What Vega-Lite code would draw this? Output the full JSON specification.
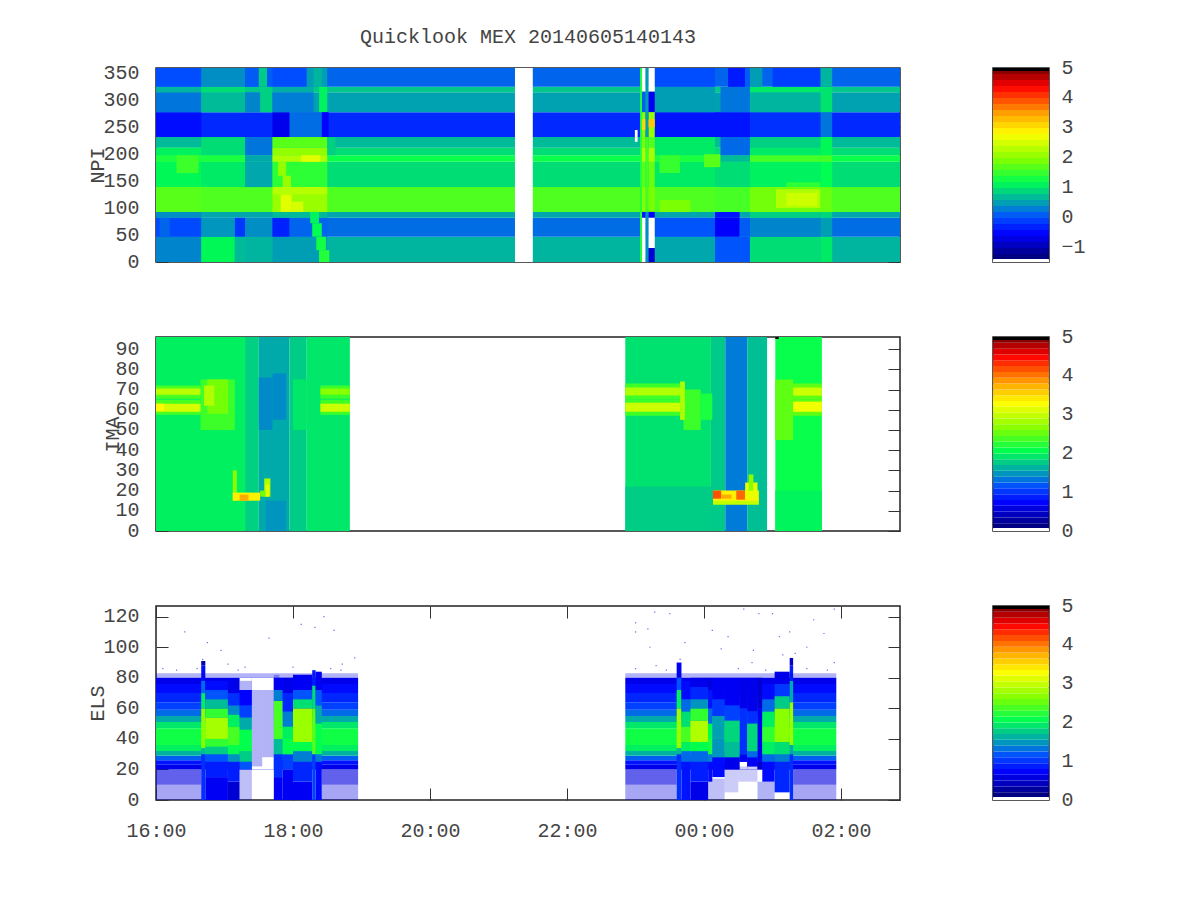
{"$schema":"https://vega.github.io/schema/vega-lite/v6.json","background":"white","padding":{"left":86,"top":26,"right":5,"bottom":5},
"config":{"view":{"stroke":"#222","strokeWidth":1.5},"axis":{"grid":false,"labelFont":"Liberation Mono","titleFont":"Liberation Mono","labelFontSize":20,"titleFontSize":20,"titleFontWeight":"normal","labelColor":"#444","titleColor":"#444","tickColor":"#333","domain":false,"zindex":1,"labelFlush":false,"labelOverlap":false},"title":{"font":"Liberation Mono","fontSize":20,"fontWeight":"normal","color":"#444"}},
"datasets":{
"npi":[
{"t":16,"t2":26.86,"y":0,"y2":47,"v":0.55},{"t":16,"t2":26.86,"y":47,"y2":82,"v":0.1},{"t":16,"t2":26.86,"y":82,"y2":93,"v":0.45},{"t":16,"t2":26.86,"y":93,"y2":139,"v":1.55},{"t":16,"t2":26.86,"y":139,"y2":186,"v":0.85},{"t":16,"t2":26.86,"y":186,"y2":198,"v":1.15},{"t":16,"t2":26.86,"y":198,"y2":212,"v":0.85},{"t":16,"t2":26.86,"y":212,"y2":232,"v":0.6},{"t":16,"t2":26.86,"y":232,"y2":278,"v":-0.35},{"t":16,"t2":26.86,"y":278,"y2":315,"v":0.42},{"t":16,"t2":26.86,"y":315,"y2":325,"v":0.7},{"t":16,"t2":26.86,"y":325,"y2":360,"v":0.05},
{"t":16,"t2":16.66,"y":0,"y2":47,"v":0.25},{"t":16,"t2":16.66,"y":47,"y2":82,"v":-0.12},{"t":16,"t2":16.66,"y":82,"y2":93,"v":0.3},{"t":16,"t2":16.66,"y":93,"y2":139,"v":1.6},{"t":16,"t2":16.66,"y":139,"y2":186,"v":1.05},{"t":16,"t2":16.66,"y":186,"y2":198,"v":1.25},{"t":16,"t2":16.66,"y":198,"y2":212,"v":1.0},{"t":16,"t2":16.66,"y":232,"y2":278,"v":-0.55},{"t":16,"t2":16.66,"y":278,"y2":315,"v":0.15},{"t":16,"t2":16.66,"y":315,"y2":325,"v":0.55},{"t":16,"t2":16.66,"y":325,"y2":360,"v":-0.1},
{"t":16.3,"t2":16.62,"y":165,"y2":198,"v":1.45},{"t":16.05,"t2":16.2,"y":47,"y2":82,"v":0.05},
{"t":16.66,"t2":17.15,"y":0,"y2":47,"v":1.05},{"t":17.15,"t2":17.3,"y":0,"y2":47,"v":0.6},{"t":17.15,"t2":17.3,"y":47,"y2":82,"v":-0.25},{"t":16.66,"t2":17.15,"y":47,"y2":82,"v":0.35},{"t":16.66,"t2":17.3,"y":139,"y2":186,"v":0.95},{"t":16.66,"t2":17.3,"y":186,"y2":198,"v":1.25},{"t":16.66,"t2":17.3,"y":198,"y2":232,"v":0.85},{"t":16.66,"t2":17.3,"y":278,"y2":315,"v":0.6},{"t":16.66,"t2":17.3,"y":315,"y2":325,"v":0.85},{"t":16.66,"t2":17.3,"y":325,"y2":360,"v":0.3},
{"t":17.3,"t2":17.7,"y":0,"y2":47,"v":0.55},{"t":17.3,"t2":17.7,"y":47,"y2":82,"v":0.3},{"t":17.3,"t2":17.7,"y":139,"y2":186,"v":0.45},{"t":17.3,"t2":17.7,"y":186,"y2":198,"v":0.45},{"t":17.3,"t2":17.7,"y":198,"y2":232,"v":0.15},{"t":17.3,"t2":17.7,"y":278,"y2":315,"v":0.25},{"t":17.3,"t2":17.7,"y":325,"y2":360,"v":0.0},{"t":17.52,"t2":17.7,"y":278,"y2":325,"v":0.75},{"t":17.5,"t2":17.62,"y":325,"y2":360,"v":0.7},
{"t":17.7,"t2":18.5,"y":0,"y2":47,"v":0.4},{"t":17.7,"t2":17.95,"y":47,"y2":82,"v":-0.4},{"t":17.95,"t2":18.5,"y":47,"y2":82,"v":0.05},{"t":17.7,"t2":18.5,"y":82,"y2":93,"v":0.6},{"t":17.7,"t2":18.5,"y":93,"y2":125,"v":2.0},{"t":17.7,"t2":18.5,"y":125,"y2":139,"v":2.2},{"t":17.7,"t2":18.5,"y":139,"y2":186,"v":1.35},{"t":17.7,"t2":18.5,"y":186,"y2":198,"v":2.15},{"t":17.7,"t2":18.5,"y":198,"y2":212,"v":1.95},{"t":17.7,"t2":18.5,"y":212,"y2":232,"v":1.6},{"t":17.7,"t2":17.95,"y":232,"y2":278,"v":-0.75},{"t":17.95,"t2":18.45,"y":232,"y2":278,"v":0.1},{"t":17.7,"t2":18.3,"y":278,"y2":315,"v":0.2},{"t":17.7,"t2":18.3,"y":315,"y2":325,"v":0.5},{"t":17.7,"t2":18.2,"y":325,"y2":360,"v":-0.1},{"t":18.2,"t2":18.5,"y":325,"y2":360,"v":0.4},
{"t":17.82,"t2":17.98,"y":93,"y2":125,"v":2.5},{"t":17.98,"t2":18.15,"y":93,"y2":112,"v":2.4},{"t":18.12,"t2":18.4,"y":186,"y2":198,"v":2.5},{"t":17.78,"t2":17.9,"y":160,"y2":186,"v":1.95},{"t":17.85,"t2":17.97,"y":139,"y2":160,"v":2.0},{"t":18.25,"t2":18.38,"y":72,"y2":93,"v":1.0},{"t":18.28,"t2":18.42,"y":47,"y2":72,"v":1.1},{"t":18.34,"t2":18.48,"y":22,"y2":47,"v":1.2},{"t":18.38,"t2":18.53,"y":0,"y2":22,"v":1.3},{"t":18.3,"t2":18.42,"y":325,"y2":360,"v":0.55},{"t":18.38,"t2":18.5,"y":278,"y2":325,"v":1.0},{"t":18.42,"t2":18.52,"y":232,"y2":278,"v":-0.6},
{"t":18.5,"t2":18.62,"y":198,"y2":232,"v":0.75},
{"t":21.24,"t2":21.5,"y":0,"y2":360,"v":-1.47},
{"t":23.28,"t2":24.16,"y":0,"y2":47,"v":0.45},{"t":23.28,"t2":24.16,"y":47,"y2":82,"v":-0.05},{"t":23.28,"t2":24.16,"y":139,"y2":186,"v":0.95},{"t":23.28,"t2":24.16,"y":186,"y2":198,"v":1.25},{"t":23.28,"t2":24.16,"y":198,"y2":232,"v":0.95},{"t":23.28,"t2":24.16,"y":232,"y2":278,"v":-0.5},{"t":23.28,"t2":24.16,"y":278,"y2":325,"v":0.4},{"t":23.28,"t2":24.16,"y":325,"y2":360,"v":-0.1},
{"t":23.35,"t2":23.65,"y":165,"y2":198,"v":1.4},{"t":24.0,"t2":24.24,"y":176,"y2":200,"v":1.6},{"t":23.35,"t2":23.8,"y":93,"y2":115,"v":1.8},
{"t":24.16,"t2":24.67,"y":0,"y2":47,"v":-0.05},{"t":24.16,"t2":24.52,"y":47,"y2":82,"v":-0.65},{"t":24.52,"t2":24.67,"y":47,"y2":82,"v":0.0},{"t":24.16,"t2":24.52,"y":82,"y2":93,"v":-0.5},{"t":24.16,"t2":24.67,"y":93,"y2":139,"v":1.5},{"t":24.24,"t2":24.67,"y":139,"y2":186,"v":0.85},{"t":24.24,"t2":24.67,"y":186,"y2":198,"v":0.6},{"t":24.24,"t2":24.67,"y":198,"y2":232,"v":0.08},{"t":24.16,"t2":24.67,"y":232,"y2":278,"v":-0.5},{"t":24.24,"t2":24.67,"y":278,"y2":325,"v":0.15},{"t":24.35,"t2":24.6,"y":325,"y2":360,"v":-0.45},{"t":24.6,"t2":24.67,"y":325,"y2":360,"v":0.0},
{"t":24.67,"t2":25.7,"y":0,"y2":47,"v":0.85},{"t":24.67,"t2":25.7,"y":47,"y2":82,"v":0.25},{"t":24.67,"t2":25.7,"y":82,"y2":93,"v":0.75},{"t":24.67,"t2":25.7,"y":93,"y2":139,"v":1.75},{"t":24.67,"t2":25.7,"y":139,"y2":186,"v":1.0},{"t":24.67,"t2":25.7,"y":186,"y2":198,"v":1.5},{"t":24.67,"t2":25.7,"y":198,"y2":212,"v":0.95},{"t":24.67,"t2":25.7,"y":212,"y2":232,"v":0.75},{"t":24.67,"t2":25.7,"y":232,"y2":278,"v":-0.3},{"t":24.67,"t2":25.7,"y":278,"y2":315,"v":0.55},{"t":24.67,"t2":25.7,"y":315,"y2":325,"v":0.95},{"t":24.67,"t2":24.85,"y":325,"y2":360,"v":0.4},{"t":25.0,"t2":25.7,"y":325,"y2":360,"v":-0.2},
{"t":25.05,"t2":25.7,"y":100,"y2":135,"v":2.15},{"t":25.2,"t2":25.65,"y":104,"y2":128,"v":2.35},{"t":25.2,"t2":25.7,"y":139,"y2":148,"v":1.35},
{"t":25.7,"t2":25.87,"y":0,"y2":47,"v":0.95},{"t":25.7,"t2":25.87,"y":47,"y2":82,"v":0.4},{"t":25.7,"t2":25.87,"y":82,"y2":93,"v":0.8},{"t":25.7,"t2":25.87,"y":93,"y2":139,"v":1.7},{"t":25.7,"t2":25.87,"y":139,"y2":186,"v":1.1},{"t":25.7,"t2":25.87,"y":186,"y2":198,"v":1.5},{"t":25.7,"t2":25.87,"y":198,"y2":232,"v":1.05},{"t":25.7,"t2":25.87,"y":232,"y2":278,"v":0.15},{"t":25.7,"t2":25.87,"y":278,"y2":325,"v":0.9},{"t":25.7,"t2":25.87,"y":325,"y2":360,"v":0.55},
{"t":22.99,"t2":23.03,"y":223,"y2":245,"v":-1.47},
{"t":23.066,"t2":23.095,"y":0,"y2":360,"v":1.3},
{"t":23.095,"t2":23.147,"y":316,"y2":360,"v":-1.47},{"t":23.095,"t2":23.147,"y":278,"y2":316,"v":0.0},{"t":23.095,"t2":23.147,"y":232,"y2":278,"v":1.9},{"t":23.095,"t2":23.147,"y":245,"y2":265,"v":3.0},{"t":23.095,"t2":23.147,"y":212,"y2":232,"v":1.8},{"t":23.095,"t2":23.147,"y":186,"y2":212,"v":2.2},{"t":23.095,"t2":23.147,"y":139,"y2":186,"v":1.6},{"t":23.095,"t2":23.147,"y":93,"y2":139,"v":1.9},{"t":23.095,"t2":23.147,"y":82,"y2":93,"v":-0.5},{"t":23.095,"t2":23.147,"y":0,"y2":82,"v":-1.47},
{"t":23.147,"t2":23.19,"y":232,"y2":360,"v":0.4},{"t":23.147,"t2":23.19,"y":93,"y2":232,"v":1.45},{"t":23.147,"t2":23.19,"y":0,"y2":93,"v":0.3},
{"t":23.19,"t2":23.28,"y":316,"y2":360,"v":-1.47},{"t":23.19,"t2":23.28,"y":278,"y2":316,"v":-0.7},{"t":23.19,"t2":23.28,"y":232,"y2":278,"v":2.0},{"t":23.19,"t2":23.28,"y":250,"y2":265,"v":3.1},{"t":23.19,"t2":23.28,"y":212,"y2":232,"v":1.6},{"t":23.19,"t2":23.28,"y":186,"y2":212,"v":2.1},{"t":23.19,"t2":23.28,"y":139,"y2":186,"v":1.7},{"t":23.19,"t2":23.28,"y":93,"y2":139,"v":1.8},{"t":23.19,"t2":23.28,"y":82,"y2":93,"v":-0.6},{"t":23.19,"t2":23.28,"y":26,"y2":82,"v":-1.47},{"t":23.19,"t2":23.28,"y":0,"y2":26,"v":-0.9}
],
"ima":[
{"t":16,"t2":17.3,"y":0,"y2":96,"v":1.9},{"t":17.3,"t2":17.5,"y":0,"y2":96,"v":1.72},{"t":17.5,"t2":17.95,"y":0,"y2":96,"v":1.5},{"t":17.95,"t2":18.2,"y":0,"y2":96,"v":1.7},{"t":18.2,"t2":18.83,"y":0,"y2":96,"v":1.85},
{"t":17.5,"t2":17.7,"y":50,"y2":76,"v":1.35},{"t":17.6,"t2":17.9,"y":0,"y2":15,"v":1.4},{"t":17.7,"t2":17.9,"y":55,"y2":78,"v":1.35},{"t":18.0,"t2":18.2,"y":50,"y2":75,"v":1.85},
{"t":16,"t2":16.65,"y":65.5,"y2":72,"v":2.3},{"t":16,"t2":16.65,"y":57.5,"y2":65,"v":2.3},{"t":18.4,"t2":18.83,"y":65.5,"y2":72,"v":2.25},{"t":18.4,"t2":18.83,"y":57.5,"y2":65,"v":2.25},
{"t":16.65,"t2":17.15,"y":50,"y2":75,"v":2.25},{"t":16.75,"t2":17.05,"y":58,"y2":75,"v":2.5},{"t":16.7,"t2":16.85,"y":62,"y2":72,"v":2.8},
{"t":16,"t2":16.65,"y":67.4,"y2":70.5,"v":2.85},{"t":16,"t2":16.65,"y":59,"y2":63,"v":3.0},{"t":16,"t2":16.12,"y":59.5,"y2":63,"v":3.25},
{"t":18.4,"t2":18.83,"y":67.5,"y2":70.5,"v":2.6},{"t":18.4,"t2":18.83,"y":59,"y2":63,"v":2.95},
{"t":17.12,"t2":17.18,"y":15,"y2":30,"v":2.6},{"t":17.12,"t2":17.52,"y":15,"y2":19,"v":3.3},{"t":17.22,"t2":17.35,"y":15,"y2":18,"v":3.7},{"t":17.58,"t2":17.67,"y":17,"y2":26,"v":2.8},{"t":17.6,"t2":17.65,"y":17,"y2":23,"v":3.1},{"t":17.52,"t2":17.6,"y":17,"y2":20,"v":2.5},
{"t":22.85,"t2":24.1,"y":0,"y2":96,"v":1.82},{"t":22.85,"t2":24.1,"y":0,"y2":22,"v":1.7},{"t":24.1,"t2":24.31,"y":0,"y2":96,"v":1.68},{"t":24.31,"t2":24.63,"y":0,"y2":96,"v":1.28},{"t":24.63,"t2":24.92,"y":0,"y2":96,"v":1.62},
{"t":22.85,"t2":23.68,"y":65,"y2":73,"v":2.25},{"t":22.85,"t2":23.65,"y":57,"y2":65,"v":2.25},
{"t":22.85,"t2":23.68,"y":67,"y2":71,"v":2.8},{"t":22.85,"t2":23.65,"y":59,"y2":63.5,"v":2.95},{"t":23.7,"t2":23.95,"y":50,"y2":70,"v":2.25},{"t":23.65,"t2":23.72,"y":55,"y2":74,"v":2.8},{"t":23.95,"t2":24.12,"y":55,"y2":68,"v":2.1},
{"t":24.13,"t2":24.8,"y":13,"y2":15.5,"v":2.9},{"t":24.13,"t2":24.8,"y":15,"y2":20,"v":3.3},{"t":24.13,"t2":24.25,"y":16,"y2":20,"v":4.1},{"t":24.25,"t2":24.4,"y":16,"y2":18,"v":3.7},{"t":24.47,"t2":24.6,"y":15.5,"y2":20,"v":4.0},{"t":24.6,"t2":24.78,"y":16,"y2":24,"v":3.1},{"t":24.65,"t2":24.72,"y":20,"y2":28,"v":2.6},
{"t":25.04,"t2":25.72,"y":0,"y2":96,"v":2.02},{"t":25.04,"t2":25.72,"y":0,"y2":20,"v":1.92},{"t":25.04,"t2":25.3,"y":45,"y2":75,"v":2.4},{"t":25.3,"t2":25.72,"y":65,"y2":73,"v":2.4},{"t":25.3,"t2":25.72,"y":57,"y2":65,"v":2.4},{"t":25.3,"t2":25.72,"y":67,"y2":71,"v":2.95},{"t":25.3,"t2":25.72,"y":59,"y2":64,"v":3.15},{"t":25.04,"t2":25.09,"y":95,"y2":96,"v":5}
],
"els":[
{"t":16,"t2":18.95,"y":20,"y2":23,"v":0.55},{"t":16,"t2":18.95,"y":23,"y2":26,"v":0.75},{"t":16,"t2":18.95,"y":26,"y2":29,"v":1.15},{"t":16,"t2":18.95,"y":29,"y2":32,"v":1.55},{"t":16,"t2":18.95,"y":32,"y2":36,"v":1.9},{"t":16,"t2":18.95,"y":36,"y2":47,"v":2.05},{"t":16,"t2":18.95,"y":47,"y2":51,"v":1.85},{"t":16,"t2":18.95,"y":51,"y2":55,"v":1.5},{"t":16,"t2":18.95,"y":55,"y2":59,"v":1.2},{"t":16,"t2":18.95,"y":59,"y2":64,"v":1.0},{"t":16,"t2":18.95,"y":64,"y2":70,"v":0.85},{"t":16,"t2":18.95,"y":70,"y2":76,"v":0.7},{"t":16,"t2":18.95,"y":76,"y2":80,"v":0.55},
{"t":22.85,"t2":25.93,"y":20,"y2":23,"v":0.55},{"t":22.85,"t2":25.93,"y":23,"y2":26,"v":0.75},{"t":22.85,"t2":25.93,"y":26,"y2":29,"v":1.15},{"t":22.85,"t2":25.93,"y":29,"y2":32,"v":1.55},{"t":22.85,"t2":25.93,"y":32,"y2":36,"v":1.9},{"t":22.85,"t2":25.93,"y":36,"y2":47,"v":2.05},{"t":22.85,"t2":25.93,"y":47,"y2":51,"v":1.85},{"t":22.85,"t2":25.93,"y":51,"y2":55,"v":1.5},{"t":22.85,"t2":25.93,"y":55,"y2":59,"v":1.2},{"t":22.85,"t2":25.93,"y":59,"y2":64,"v":1.0},{"t":22.85,"t2":25.93,"y":64,"y2":70,"v":0.85},{"t":22.85,"t2":25.93,"y":70,"y2":76,"v":0.7},{"t":22.85,"t2":25.93,"y":76,"y2":80,"v":0.55},
{"t":16.66,"t2":16.72,"y":0,"y2":30,"v":0.9},{"t":16.66,"t2":16.72,"y":30,"y2":34,"v":1.6},{"t":16.66,"t2":16.72,"y":34,"y2":60,"v":2.6},{"t":16.66,"t2":16.72,"y":60,"y2":70,"v":1.9},{"t":16.66,"t2":16.72,"y":70,"y2":78,"v":1.2},{"t":16.66,"t2":16.72,"y":78,"y2":88,"v":0.7},{"t":16.66,"t2":16.72,"y":88,"y2":91,"v":0.3},
{"t":16.72,"t2":17.05,"y":0,"y2":15,"v":0.6},{"t":16.72,"t2":17.05,"y":15,"y2":25,"v":0.8},{"t":16.72,"t2":17.05,"y":25,"y2":30,"v":1.1},{"t":16.72,"t2":17.05,"y":30,"y2":35,"v":1.7},{"t":16.72,"t2":17.05,"y":35,"y2":40,"v":2.2},{"t":16.72,"t2":17.05,"y":40,"y2":54,"v":2.75},{"t":16.72,"t2":17.05,"y":54,"y2":60,"v":2.2},{"t":16.72,"t2":17.05,"y":60,"y2":66,"v":1.6},{"t":16.72,"t2":17.05,"y":66,"y2":72,"v":1.1},{"t":16.72,"t2":17.05,"y":72,"y2":78,"v":0.7},
{"t":17.05,"t2":17.22,"y":0,"y2":12,"v":0.45},{"t":17.05,"t2":17.22,"y":12,"y2":25,"v":0.8},{"t":17.05,"t2":17.22,"y":25,"y2":30,"v":1.4},{"t":17.05,"t2":17.22,"y":30,"y2":36,"v":2.0},{"t":17.05,"t2":17.22,"y":36,"y2":48,"v":2.3},{"t":17.05,"t2":17.22,"y":48,"y2":56,"v":1.9},{"t":17.05,"t2":17.22,"y":56,"y2":62,"v":1.35},{"t":17.05,"t2":17.22,"y":62,"y2":70,"v":0.9},{"t":17.05,"t2":17.22,"y":70,"y2":76,"v":0.55},
{"t":17.22,"t2":17.4,"y":20,"y2":25,"v":1.1},{"t":17.22,"t2":17.4,"y":25,"y2":32,"v":1.7},{"t":17.22,"t2":17.4,"y":32,"y2":46,"v":2.0},{"t":17.22,"t2":17.4,"y":46,"y2":54,"v":1.5},{"t":17.22,"t2":17.4,"y":54,"y2":62,"v":1.0},{"t":17.22,"t2":17.4,"y":62,"y2":72,"v":0.65},{"t":17.22,"t2":17.4,"y":72,"y2":80,"v":0},
{"t":17.4,"t2":17.72,"y":20,"y2":80,"v":0},
{"t":17.72,"t2":17.85,"y":0,"y2":15,"v":0.6},{"t":17.72,"t2":17.85,"y":15,"y2":30,"v":0.9},{"t":17.72,"t2":17.85,"y":30,"y2":40,"v":1.6},{"t":17.72,"t2":17.85,"y":40,"y2":65,"v":2.3},{"t":17.72,"t2":17.85,"y":65,"y2":72,"v":1.3},{"t":17.72,"t2":17.85,"y":72,"y2":80,"v":0.6},
{"t":17.85,"t2":18.0,"y":0,"y2":20,"v":0.6},{"t":17.85,"t2":18.0,"y":20,"y2":30,"v":1.0},{"t":17.85,"t2":18.0,"y":30,"y2":40,"v":2.0},{"t":17.85,"t2":18.0,"y":40,"y2":48,"v":1.9},{"t":17.85,"t2":18.0,"y":48,"y2":58,"v":1.3},{"t":17.85,"t2":18.0,"y":58,"y2":70,"v":0.85},{"t":17.85,"t2":18.0,"y":70,"y2":80,"v":0.55},
{"t":18.0,"t2":18.28,"y":0,"y2":12,"v":0.6},{"t":18.0,"t2":18.28,"y":12,"y2":25,"v":0.85},{"t":18.0,"t2":18.28,"y":25,"y2":32,"v":1.3},{"t":18.0,"t2":18.28,"y":32,"y2":38,"v":2.0},{"t":18.0,"t2":18.28,"y":38,"y2":60,"v":2.7},{"t":18.0,"t2":18.28,"y":60,"y2":66,"v":1.8},{"t":18.0,"t2":18.28,"y":66,"y2":72,"v":1.1},{"t":18.0,"t2":18.28,"y":72,"y2":82,"v":0.6},
{"t":18.28,"t2":18.33,"y":0,"y2":30,"v":1.0},{"t":18.28,"t2":18.33,"y":30,"y2":60,"v":2.4},{"t":18.28,"t2":18.33,"y":60,"y2":75,"v":1.8},{"t":18.28,"t2":18.33,"y":75,"y2":85,"v":0.8},
{"t":18.33,"t2":18.42,"y":0,"y2":25,"v":0.7},{"t":18.33,"t2":18.42,"y":25,"y2":30,"v":1.3},{"t":18.33,"t2":18.42,"y":30,"y2":50,"v":2.0},{"t":18.33,"t2":18.42,"y":50,"y2":62,"v":1.5},{"t":18.33,"t2":18.42,"y":62,"y2":72,"v":1.1},{"t":18.33,"t2":18.42,"y":72,"y2":84,"v":0.6},
{"t":23.6,"t2":23.67,"y":0,"y2":30,"v":0.9},{"t":23.6,"t2":23.67,"y":30,"y2":34,"v":1.6},{"t":23.6,"t2":23.67,"y":34,"y2":60,"v":2.7},{"t":23.6,"t2":23.67,"y":60,"y2":72,"v":1.9},{"t":23.6,"t2":23.67,"y":72,"y2":80,"v":1.1},{"t":23.6,"t2":23.67,"y":80,"y2":90,"v":0.6},
{"t":23.67,"t2":23.8,"y":0,"y2":25,"v":0.75},{"t":23.67,"t2":23.8,"y":25,"y2":32,"v":1.2},{"t":23.67,"t2":23.8,"y":32,"y2":38,"v":1.9},{"t":23.67,"t2":23.8,"y":38,"y2":48,"v":2.3},{"t":23.67,"t2":23.8,"y":48,"y2":58,"v":1.8},{"t":23.67,"t2":23.8,"y":58,"y2":66,"v":1.2},{"t":23.67,"t2":23.8,"y":66,"y2":78,"v":0.7},
{"t":23.8,"t2":24.06,"y":0,"y2":12,"v":0.55},{"t":23.8,"t2":24.06,"y":12,"y2":25,"v":0.8},{"t":23.8,"t2":24.06,"y":25,"y2":32,"v":1.2},{"t":23.8,"t2":24.06,"y":32,"y2":38,"v":2.0},{"t":23.8,"t2":24.06,"y":38,"y2":52,"v":2.8},{"t":23.8,"t2":24.06,"y":52,"y2":60,"v":2.2},{"t":23.8,"t2":24.06,"y":60,"y2":66,"v":1.4},{"t":23.8,"t2":24.06,"y":66,"y2":74,"v":0.85},{"t":23.8,"t2":24.06,"y":74,"y2":80,"v":0.55},
{"t":24.06,"t2":24.12,"y":12,"y2":25,"v":0.7},{"t":24.06,"t2":24.12,"y":25,"y2":30,"v":1.3},{"t":24.06,"t2":24.12,"y":30,"y2":40,"v":2.1},{"t":24.06,"t2":24.12,"y":40,"y2":50,"v":2.0},{"t":24.06,"t2":24.12,"y":50,"y2":60,"v":1.2},{"t":24.06,"t2":24.12,"y":60,"y2":72,"v":0.75},{"t":24.06,"t2":24.12,"y":72,"y2":80,"v":0.5},
{"t":24.12,"t2":24.3,"y":15,"y2":28,"v":0.7},{"t":24.12,"t2":24.3,"y":28,"y2":40,"v":1.4},{"t":24.12,"t2":24.3,"y":40,"y2":55,"v":1.45},{"t":24.12,"t2":24.3,"y":55,"y2":66,"v":0.95},{"t":24.12,"t2":24.3,"y":66,"y2":80,"v":0.6},
{"t":24.3,"t2":24.52,"y":20,"y2":28,"v":0.55},{"t":24.3,"t2":24.52,"y":28,"y2":38,"v":1.6},{"t":24.3,"t2":24.52,"y":38,"y2":52,"v":1.75},{"t":24.3,"t2":24.52,"y":52,"y2":62,"v":1.0},{"t":24.3,"t2":24.52,"y":62,"y2":80,"v":0.6},
{"t":24.52,"t2":24.63,"y":20,"y2":25,"v":0},{"t":24.52,"t2":24.63,"y":25,"y2":30,"v":0.6},{"t":24.52,"t2":24.63,"y":30,"y2":60,"v":0.9},{"t":24.52,"t2":24.63,"y":60,"y2":80,"v":0.55},
{"t":24.63,"t2":24.78,"y":20,"y2":22,"v":0},{"t":24.63,"t2":24.78,"y":22,"y2":28,"v":0.6},{"t":24.63,"t2":24.78,"y":28,"y2":32,"v":1.2},{"t":24.63,"t2":24.78,"y":32,"y2":50,"v":1.75},{"t":24.63,"t2":24.78,"y":50,"y2":58,"v":0.9},{"t":24.63,"t2":24.78,"y":58,"y2":80,"v":0.55},
{"t":24.78,"t2":24.85,"y":20,"y2":25,"v":0.4},{"t":24.78,"t2":24.85,"y":25,"y2":60,"v":0.6},{"t":24.78,"t2":24.85,"y":60,"y2":80,"v":0.45},
{"t":24.85,"t2":25.03,"y":12,"y2":25,"v":0.7},{"t":24.85,"t2":25.03,"y":25,"y2":30,"v":1.2},{"t":24.85,"t2":25.03,"y":30,"y2":38,"v":1.9},{"t":24.85,"t2":25.03,"y":38,"y2":48,"v":2.2},{"t":24.85,"t2":25.03,"y":48,"y2":58,"v":1.9},{"t":24.85,"t2":25.03,"y":58,"y2":66,"v":1.2},{"t":24.85,"t2":25.03,"y":66,"y2":76,"v":0.7},
{"t":25.03,"t2":25.25,"y":5,"y2":25,"v":0.85},{"t":25.03,"t2":25.25,"y":25,"y2":30,"v":1.3},{"t":25.03,"t2":25.25,"y":30,"y2":38,"v":1.8},{"t":25.03,"t2":25.25,"y":38,"y2":60,"v":2.6},{"t":25.03,"t2":25.25,"y":60,"y2":68,"v":1.7},{"t":25.03,"t2":25.25,"y":68,"y2":76,"v":0.95},{"t":25.03,"t2":25.25,"y":76,"y2":84,"v":0.55},
{"t":25.25,"t2":25.3,"y":0,"y2":30,"v":0.9},{"t":25.25,"t2":25.3,"y":30,"y2":36,"v":1.5},{"t":25.25,"t2":25.3,"y":36,"y2":64,"v":2.7},{"t":25.25,"t2":25.3,"y":64,"y2":78,"v":1.5},{"t":25.25,"t2":25.3,"y":78,"y2":88,"v":0.8},{"t":25.25,"t2":25.3,"y":88,"y2":93,"v":0.4}
],
"sparse":[
{"t":16,"t2":16.66,"y":0,"y2":10,"d":0.35},{"t":16,"t2":16.66,"y":10,"y2":20,"d":0.62},{"t":18.42,"t2":18.95,"y":0,"y2":10,"d":0.35},{"t":18.42,"t2":18.95,"y":10,"y2":20,"d":0.62},{"t":17.22,"t2":17.4,"y":0,"y2":20,"d":0.25},{"t":17.4,"t2":17.55,"y":22,"y2":72,"d":0.3},{"t":17.55,"t2":17.72,"y":28,"y2":72,"d":0.3},{"t":17.72,"t2":17.8,"y":72,"y2":82,"d":0.3},{"t":16,"t2":18.95,"y":80,"y2":83,"d":0.3},{"t":17.22,"t2":17.4,"y":72,"y2":78,"d":0.3},
{"t":22.85,"t2":23.6,"y":0,"y2":10,"d":0.35},{"t":22.85,"t2":23.6,"y":10,"y2":20,"d":0.62},{"t":25.3,"t2":25.93,"y":0,"y2":10,"d":0.35},{"t":25.3,"t2":25.93,"y":10,"y2":20,"d":0.62},{"t":22.85,"t2":25.93,"y":80,"y2":83,"d":0.3},{"t":24.06,"t2":24.3,"y":0,"y2":14,"d":0.25},{"t":24.3,"t2":24.5,"y":5,"y2":20,"d":0.2},{"t":24.5,"t2":24.78,"y":12,"y2":22,"d":0.2},{"t":24.78,"t2":25.03,"y":0,"y2":12,"d":0.3}
],
"specks":[
{"t":16.42,"y":110},{"t":16.75,"y":103},{"t":16.95,"y":98},{"t":17.05,"y":89},{"t":16.6,"y":86},{"t":17.65,"y":106},{"t":18.12,"y":115},{"t":18.32,"y":113},{"t":18.45,"y":120},{"t":18.6,"y":111},{"t":18.72,"y":89},{"t":18.9,"y":93},{"t":16.1,"y":86},{"t":16.3,"y":85},{"t":17.3,"y":87},{"t":18.0,"y":87},{"t":18.55,"y":86},{"t":16.68,"y":92},{"t":17.2,"y":85},{"t":18.7,"y":85},
{"t":23.0,"y":110},{"t":23.0,"y":116},{"t":23.18,"y":112},{"t":23.21,"y":100},{"t":23.28,"y":123},{"t":23.5,"y":122},{"t":23.65,"y":92},{"t":23.72,"y":103},{"t":24.12,"y":111},{"t":24.25,"y":99},{"t":24.35,"y":107},{"t":24.58,"y":125},{"t":24.72,"y":98},{"t":24.8,"y":122},{"t":25.0,"y":122},{"t":25.1,"y":107},{"t":25.15,"y":95},{"t":25.25,"y":110},{"t":25.33,"y":96},{"t":25.5,"y":100},{"t":25.6,"y":118},{"t":25.75,"y":109},{"t":25.9,"y":125},{"t":25.9,"y":90},{"t":23.0,"y":86},{"t":23.3,"y":88},{"t":24.5,"y":86},{"t":24.9,"y":85},{"t":25.5,"y":86},{"t":25.8,"y":85},{"t":23.45,"y":85},{"t":24.7,"y":90}
],
"cbNpi":[
{"v":-1.47,"v2":-1.38},{"v":-1.37,"v2":-1.2},{"v":-1.2,"v2":-1},{"v":-1,"v2":-0.8},{"v":-0.8,"v2":-0.6},{"v":-0.6,"v2":-0.4},{"v":-0.4,"v2":-0.2},{"v":-0.2,"v2":0},{"v":0,"v2":0.2},{"v":0.2,"v2":0.4},{"v":0.4,"v2":0.6},{"v":0.6,"v2":0.8},{"v":0.8,"v2":1},{"v":1,"v2":1.2},{"v":1.2,"v2":1.4},{"v":1.4,"v2":1.6},{"v":1.6,"v2":1.8},{"v":1.8,"v2":2},{"v":2,"v2":2.2},{"v":2.2,"v2":2.4},{"v":2.4,"v2":2.6},{"v":2.6,"v2":2.8},{"v":2.8,"v2":3},{"v":3,"v2":3.2},{"v":3.2,"v2":3.4},{"v":3.4,"v2":3.6},{"v":3.6,"v2":3.8},{"v":3.8,"v2":4},{"v":4,"v2":4.2},{"v":4.2,"v2":4.4},{"v":4.4,"v2":4.6},{"v":4.6,"v2":4.8},{"v":4.8,"v2":4.9},{"v":4.9,"v2":5}
],
"cb":[
{"v":0,"v2":0.07},{"v":0.08,"v2":0.2},{"v":0.2,"v2":0.35},{"v":0.35,"v2":0.5},{"v":0.5,"v2":0.65},{"v":0.65,"v2":0.8},{"v":0.8,"v2":0.95},{"v":0.95,"v2":1.1},{"v":1.1,"v2":1.25},{"v":1.25,"v2":1.4},{"v":1.4,"v2":1.55},{"v":1.55,"v2":1.7},{"v":1.7,"v2":1.85},{"v":1.85,"v2":2},{"v":2,"v2":2.15},{"v":2.15,"v2":2.3},{"v":2.3,"v2":2.45},{"v":2.45,"v2":2.6},{"v":2.6,"v2":2.75},{"v":2.75,"v2":2.9},{"v":2.9,"v2":3.05},{"v":3.05,"v2":3.2},{"v":3.2,"v2":3.35},{"v":3.35,"v2":3.5},{"v":3.5,"v2":3.65},{"v":3.65,"v2":3.8},{"v":3.8,"v2":3.95},{"v":3.95,"v2":4.1},{"v":4.1,"v2":4.25},{"v":4.25,"v2":4.4},{"v":4.4,"v2":4.55},{"v":4.55,"v2":4.7},{"v":4.7,"v2":4.85},{"v":4.85,"v2":4.92},{"v":4.92,"v2":5}
],
"mirror":[{"t":16,"t2":16,"y":0,"y2":0}]
},
"columns":2,"spacing":{"row":75,"column":93},"bounds":"flush","resolve":{"scale":{"color":"independent","x":"independent","y":"independent"}},
"concat":[
{"width":744,"height":194,"title":{"text":"Quicklook MEX 20140605140143","offset":15},
"resolve":{"axis":{"y":"independent"}},
"layer":[
{"data":{"name":"npi"},"mark":{"type":"rect"},"encoding":{"x":{"field":"t","type":"quantitative","scale":{"domain":[16,26.86],"nice":false,"zero":false},"axis":null},"x2":{"field":"t2"},"y":{"field":"y","type":"quantitative","scale":{"domain":[0,360],"nice":false},"axis":{"title":"NPI","values":[0,50,100,150,200,250,300,350],"tickSize":-12,"labelPadding":29,"labelOffset":-1,"titleX":-49,"titleY":97}},"y2":{"field":"y2"},"color":{"field":"v","type":"quantitative","legend":null,"scale":{"interpolate":"rgb","domain":[-1.47,-1.38,-1.373,-0.635,-0.072,0.471,1.099,1.83,2.7,3.36,4.27,4.84,4.87,5],"range":["#ffffff","#ffffff","#000082","#0000ff","#0050ff","#00aaaa","#00ff50","#80ff00","#ffff00","#ffa500","#ff0000","#820000","#000000","#000000"]}}}},
{"data":{"name":"mirror"},"mark":{"type":"rect"},"encoding":{"x":{"field":"t","type":"quantitative","scale":{"domain":[16,26.86],"nice":false,"zero":false},"axis":null},"y":{"field":"y","type":"quantitative","scale":{"domain":[0,360],"nice":false},"axis":{"orient":"right","title":null,"labels":false,"values":[0,50,100,150,200,250,300,350],"tickSize":-12}}}}
]},
{"width":56,"height":194,"data":{"name":"cbNpi"},"mark":{"type":"rect"},"encoding":{"y":{"field":"v","type":"quantitative","scale":{"domain":[-1.47,5],"nice":false,"zero":false},"axis":{"orient":"right","title":null,"values":[-1,0,1,2,3,4,5],"ticks":false,"labelPadding":12,"labelOffset":-1}},"y2":{"field":"v2"},"color":{"field":"v","type":"quantitative","legend":null,"scale":{"interpolate":"rgb","domain":[-1.47,-1.38,-1.373,-0.635,-0.072,0.471,1.099,1.83,2.7,3.36,4.27,4.84,4.87,5],"range":["#ffffff","#ffffff","#000082","#0000ff","#0050ff","#00aaaa","#00ff50","#80ff00","#ffff00","#ffa500","#ff0000","#820000","#000000","#000000"]}}}},
{"width":744,"height":194,"resolve":{"axis":{"y":"independent"}},
"layer":[
{"data":{"name":"ima"},"mark":{"type":"rect"},"encoding":{"x":{"field":"t","type":"quantitative","scale":{"domain":[16,26.86],"nice":false,"zero":false},"axis":null},"x2":{"field":"t2"},"y":{"field":"y","type":"quantitative","scale":{"domain":[0,96],"nice":false},"axis":{"title":"IMA","values":[0,10,20,30,40,50,60,70,80,90],"tickSize":-12,"labelPadding":29,"labelOffset":-1,"titleX":-34,"titleY":97}},"y2":{"field":"y2"},"color":{"field":"v","type":"quantitative","legend":null,"scale":{"interpolate":"rgb","domain":[0,0.07,0.075,0.645,1.08,1.5,1.985,2.55,3.22,3.735,4.435,4.875,4.9,5],"range":["#ffffff","#ffffff","#000082","#0000ff","#0050ff","#00aaaa","#00ff50","#80ff00","#ffff00","#ffa500","#ff0000","#820000","#000000","#000000"]}}}},
{"data":{"name":"mirror"},"mark":{"type":"rect"},"encoding":{"x":{"field":"t","type":"quantitative","scale":{"domain":[16,26.86],"nice":false,"zero":false},"axis":null},"y":{"field":"y","type":"quantitative","scale":{"domain":[0,96],"nice":false},"axis":{"orient":"right","title":null,"labels":false,"values":[0,10,20,30,40,50,60,70,80,90],"tickSize":-12}}}}
]},
{"width":56,"height":194,"data":{"name":"cb"},"mark":{"type":"rect"},"encoding":{"y":{"field":"v","type":"quantitative","scale":{"domain":[0,5],"nice":false},"axis":{"orient":"right","title":null,"values":[0,1,2,3,4,5],"ticks":false,"labelPadding":12,"labelOffset":-1}},"y2":{"field":"v2"},"color":{"field":"v","type":"quantitative","legend":null,"scale":{"interpolate":"rgb","domain":[0,0.07,0.075,0.645,1.08,1.5,1.985,2.55,3.22,3.735,4.435,4.875,4.9,5],"range":["#ffffff","#ffffff","#000082","#0000ff","#0050ff","#00aaaa","#00ff50","#80ff00","#ffff00","#ffa500","#ff0000","#820000","#000000","#000000"]}}}},
{"width":744,"height":194,"resolve":{"axis":{"y":"independent","x":"independent"}},
"layer":[
{"data":{"name":"els"},"mark":{"type":"rect"},"encoding":{"x":{"field":"t","type":"quantitative","scale":{"domain":[16,26.86],"nice":false,"zero":false},"axis":{"title":null,"values":[16,18,20,22,24,26],"tickSize":-12,"labelPadding":32,"labelExpr":"datum.value>=24?'0'+(datum.value-24)+':00':datum.value+':00'"}},"x2":{"field":"t2"},"y":{"field":"y","type":"quantitative","scale":{"domain":[0,127],"nice":false},"axis":{"title":"ELS","values":[0,20,40,60,80,100,120],"tickSize":-12,"labelPadding":29,"labelOffset":-1,"titleX":-49,"titleY":97}},"y2":{"field":"y2"},"color":{"field":"v","type":"quantitative","legend":null,"scale":{"interpolate":"rgb","domain":[0,0.07,0.075,0.645,1.08,1.5,1.985,2.55,3.22,3.735,4.435,4.875,4.9,5],"range":["#ffffff","#ffffff","#000082","#0000ff","#0050ff","#00aaaa","#00ff50","#80ff00","#ffff00","#ffa500","#ff0000","#820000","#000000","#000000"]}}}},
{"data":{"name":"sparse"},"mark":{"type":"rect","color":"#0000e0"},"encoding":{"x":{"field":"t","type":"quantitative","scale":{"domain":[16,26.86],"nice":false,"zero":false},"axis":null},"x2":{"field":"t2"},"y":{"field":"y","type":"quantitative","scale":{"domain":[0,127],"nice":false},"axis":null},"y2":{"field":"y2"},"opacity":{"field":"d","type":"quantitative","legend":null,"scale":{"domain":[0,1],"range":[0,1]}}}},
{"data":{"name":"specks"},"mark":{"type":"square","color":"#3030e0","size":1.5,"opacity":0.7},"encoding":{"x":{"field":"t","type":"quantitative","scale":{"domain":[16,26.86],"nice":false,"zero":false},"axis":null},"y":{"field":"y","type":"quantitative","scale":{"domain":[0,127],"nice":false},"axis":null}}},
{"data":{"name":"mirror"},"mark":{"type":"rect"},"encoding":{"x":{"field":"t","type":"quantitative","scale":{"domain":[16,26.86],"nice":false,"zero":false},"axis":{"orient":"top","title":null,"labels":false,"values":[16,18,20,22,24,26],"tickSize":-12}},"y":{"field":"y","type":"quantitative","scale":{"domain":[0,127],"nice":false},"axis":{"orient":"right","title":null,"labels":false,"values":[0,20,40,60,80,100,120],"tickSize":-12}}}}
]},
{"width":56,"height":194,"data":{"name":"cb"},"mark":{"type":"rect"},"encoding":{"y":{"field":"v","type":"quantitative","scale":{"domain":[0,5],"nice":false},"axis":{"orient":"right","title":null,"values":[0,1,2,3,4,5],"ticks":false,"labelPadding":12,"labelOffset":-1}},"y2":{"field":"v2"},"color":{"field":"v","type":"quantitative","legend":null,"scale":{"interpolate":"rgb","domain":[0,0.07,0.075,0.645,1.08,1.5,1.985,2.55,3.22,3.735,4.435,4.875,4.9,5],"range":["#ffffff","#ffffff","#000082","#0000ff","#0050ff","#00aaaa","#00ff50","#80ff00","#ffff00","#ffa500","#ff0000","#820000","#000000","#000000"]}}}}
]}
